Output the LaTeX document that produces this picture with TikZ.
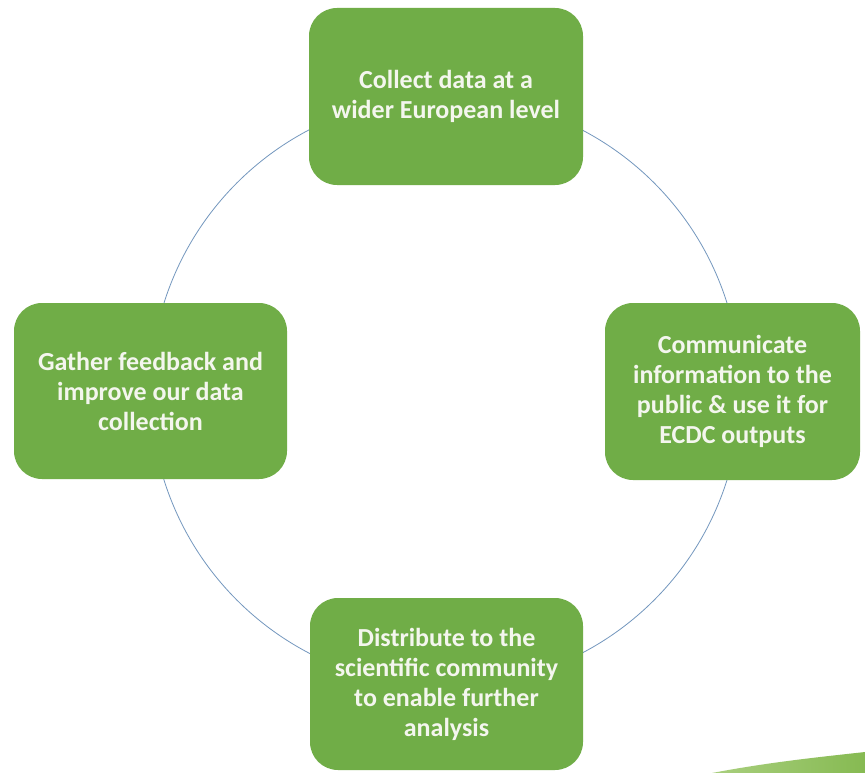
\documentclass[tikz,border=0pt]{standalone}
\usepackage{fontspec}
\setmainfont{Carlito}
\definecolor{boxgreen}{HTML}{70AD47}
\definecolor{ringblue}{HTML}{7397BE}
\definecolor{swooshA}{HTML}{A9CF7E}
\definecolor{swooshB}{HTML}{86BA52}
\definecolor{textwhite}{HTML}{F4F6EE}
\begin{document}
\begin{tikzpicture}[x=1pt,y=-1pt,
  stepbox/.style={fill=boxgreen, draw=none, rounded corners=28pt, text=textwhite,
    font=\fontsize{26}{30}\selectfont\bfseries, align=center, inner sep=0pt},
  ring/.style={draw=ringblue, line width=0.8pt, circle, minimum size=590pt, inner sep=0pt}]
\useasboundingbox (0,0) rectangle (865,773);
\fill[white] (0,0) rectangle (865,773);
% swoosh
\shade[left color=swooshA, right color=swooshB] (712,773) .. controls (770,762) and (820,757) .. (865,752) -- (865,773) -- cycle;
% ring
\node[ring] (cyc) at (445.5,391.5) {};
% boxes
\node[stepbox, minimum width=274pt, minimum height=177pt] (collect) at (446,96.5) {Collect data at a\\wider European level};
\node[stepbox, minimum width=273pt, minimum height=176pt] (gather) at (150.5,391) {Gather feedback and\\improve our data\\collection};
\node[stepbox, minimum width=255pt, minimum height=177pt] (comm) at (732.5,391.5) {Communicate\\information to the\\public \& use it for\\ECDC outputs};
\node[stepbox, minimum width=273pt, minimum height=172pt] (distr) at (446.5,684) {Distribute to the\\scientific community\\to enable further\\analysis};
\end{tikzpicture}
\end{document}
